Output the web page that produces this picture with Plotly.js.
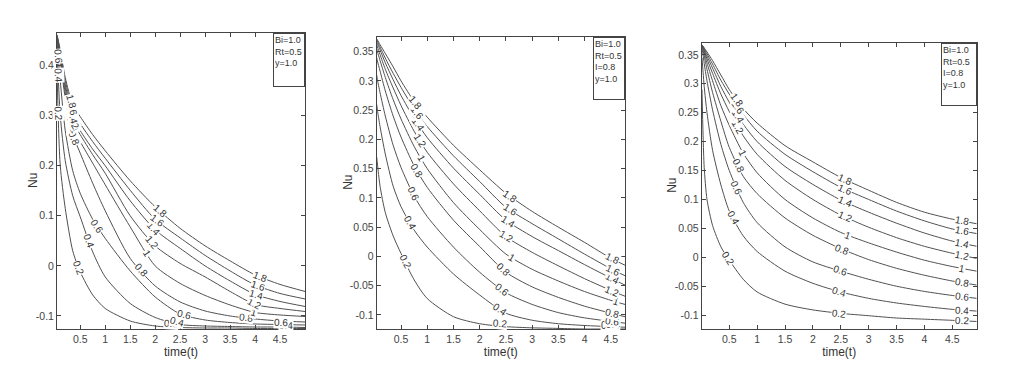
<!DOCTYPE html>
<html><head><meta charset="utf-8">
<script src="https://cdn.plot.ly/plotly-3.0.1.min.js"></script>
<style>html,body{margin:0;padding:0;background:#fff}#chart{width:1024px;height:383px}</style>
</head><body><div id="chart"></div>
<script>
// ---- data ----
const levels = ['0.2','0.4','0.6','0.8','1','1.2','1.4','1.6','1.8'];

const timeP1 = [0.03,0.05,0.1,0.2,0.35,0.5,0.75,1,1.5,2,2.5,3,3.5,4,4.5,5];
const nuP1 = [
  [0.44,0.33,0.2,0.115,0.03,-0.012,-0.058,-0.085,-0.11,-0.12,-0.123,-0.124,-0.124,-0.125,-0.125,-0.125],
  [0.45,0.4,0.3,0.21,0.14,0.098,0.028,-0.022,-0.075,-0.103,-0.117,-0.12,-0.121,-0.122,-0.122,-0.123],
  [0.455,0.43,0.37,0.27,0.19,0.145,0.093,0.055,-0.01,-0.062,-0.096,-0.108,-0.113,-0.116,-0.117,-0.118],
  [0.458,0.445,0.41,0.335,0.262,0.225,0.165,0.11,0.015,-0.04,-0.072,-0.09,-0.1,-0.106,-0.11,-0.112],
  [0.459,0.448,0.415,0.345,0.275,0.248,0.205,0.162,0.078,0.0,-0.035,-0.059,-0.078,-0.093,-0.098,-0.101],
  [0.46,0.45,0.42,0.355,0.288,0.262,0.222,0.185,0.1,0.04,0.005,-0.022,-0.051,-0.077,-0.085,-0.091],
  [0.46,0.451,0.423,0.362,0.298,0.27,0.233,0.2,0.13,0.072,0.035,0.0,-0.03,-0.057,-0.071,-0.081],
  [0.461,0.453,0.427,0.37,0.31,0.284,0.248,0.215,0.151,0.093,0.056,0.021,-0.01,-0.038,-0.055,-0.066],
  [0.462,0.455,0.431,0.376,0.322,0.298,0.262,0.23,0.17,0.118,0.075,0.04,0.01,-0.018,-0.037,-0.051]
];

const timeP2 = [0.036,0.05,0.1,0.2,0.35,0.5,0.75,1,1.5,2,2.5,3,3.5,4,4.5,4.77];
const nuP2 = [
  [0.17,0.158,0.12,0.075,0.035,0.005,-0.04,-0.072,-0.103,-0.115,-0.12,-0.122,-0.123,-0.124,-0.124,-0.124],
  [0.26,0.25,0.222,0.175,0.12,0.085,0.045,0.016,-0.03,-0.066,-0.097,-0.109,-0.115,-0.118,-0.12,-0.121],
  [0.31,0.302,0.28,0.24,0.19,0.152,0.103,0.068,0.016,-0.027,-0.062,-0.082,-0.096,-0.105,-0.111,-0.114],
  [0.34,0.334,0.317,0.283,0.24,0.204,0.155,0.118,0.062,0.017,-0.027,-0.052,-0.07,-0.085,-0.097,-0.103],
  [0.355,0.35,0.335,0.306,0.268,0.235,0.188,0.15,0.092,0.046,0.004,-0.022,-0.042,-0.06,-0.075,-0.082],
  [0.363,0.358,0.345,0.32,0.288,0.258,0.214,0.178,0.124,0.078,0.034,0.007,-0.016,-0.038,-0.058,-0.068],
  [0.368,0.364,0.353,0.331,0.302,0.275,0.236,0.203,0.151,0.106,0.062,0.034,0.01,-0.014,-0.037,-0.049],
  [0.371,0.368,0.358,0.339,0.313,0.289,0.252,0.222,0.172,0.128,0.084,0.056,0.03,0.004,-0.021,-0.033],
  [0.372,0.37,0.362,0.347,0.324,0.3,0.265,0.238,0.19,0.148,0.108,0.077,0.05,0.024,-0.003,-0.015]
];

const timeP3 = [0.01,0.03,0.05,0.1,0.2,0.35,0.5,0.75,1,1.5,2,2.5,3,3.5,4,4.5,4.94];
const nuP3 = [
  [0.29,0.21,0.155,0.1,0.055,0.018,-0.005,-0.038,-0.06,-0.081,-0.091,-0.097,-0.101,-0.105,-0.107,-0.109,-0.111],
  [0.345,0.32,0.295,0.25,0.185,0.125,0.08,0.037,0.01,-0.024,-0.045,-0.06,-0.071,-0.079,-0.085,-0.09,-0.093],
  [0.36,0.35,0.335,0.305,0.255,0.195,0.15,0.095,0.06,0.018,-0.008,-0.024,-0.038,-0.05,-0.059,-0.066,-0.071],
  [0.363,0.357,0.348,0.325,0.285,0.235,0.19,0.14,0.11,0.068,0.038,0.015,-0.004,-0.019,-0.031,-0.041,-0.048],
  [0.365,0.36,0.354,0.336,0.305,0.262,0.228,0.18,0.146,0.1,0.068,0.043,0.025,0.009,-0.005,-0.016,-0.024],
  [0.366,0.362,0.357,0.343,0.318,0.282,0.252,0.21,0.178,0.133,0.1,0.073,0.052,0.034,0.019,0.007,-0.002],
  [0.366,0.363,0.359,0.348,0.327,0.295,0.268,0.23,0.2,0.157,0.126,0.099,0.078,0.059,0.042,0.028,0.019],
  [0.367,0.364,0.361,0.352,0.334,0.306,0.282,0.247,0.218,0.178,0.148,0.121,0.1,0.08,0.063,0.049,0.041],
  [0.367,0.365,0.362,0.355,0.34,0.315,0.29,0.257,0.232,0.193,0.165,0.138,0.116,0.095,0.078,0.066,0.058]
];

const xTickVals = [0.5,1,1.5,2,2.5,3,3.5,4,4.5];
const xTickText = ['0.5','1','1.5','2','2.5','3','3.5','4','4.5'];
const yTickValsP1 = [-0.1,0,0.1,0.2,0.3,0.4];
const yTickTextP1 = ['-0.1','0','0.1','0.2','0.3','0.4'];
const yTickValsP23 = [-0.1,-0.05,0,0.05,0.1,0.15,0.2,0.25,0.3,0.35];
const yTickTextP23 = ['-0.1','-0.05','0','0.05','0.1','0.15','0.2','0.25','0.3','0.35'];

const paramsP1 = 'Bi=1.0<br>Rt=0.5<br>y=1.0';
const paramsP23 = 'Bi=1.0<br>Rt=0.5<br>I=0.8<br>y=1.0';

// ---- label placement: [level index, time position, optional pixel lift] ----
const labelsP1 = [
  [0,0.06],[1,0.06],[2,0.06],
  [3,0.38],[4,0.37],[5,0.36],[6,0.35],[7,0.34],[8,0.33],
  [0,0.467],[1,0.67],[2,0.84],[3,1.71],[4,1.84],[5,1.94],[6,1.97],[7,2.04],[8,2.09],
  [0,2.31,3],[1,2.44,2],[2,2.58],[3,3.82],[4,3.98],[5,3.98],[6,4.02],[7,4.05],[8,4.09],
  [1,4.62,2],[2,4.52,2]
];
const labelsP2 = [
  [0,0.58],[1,0.67],[2,0.73],[3,0.8],[4,0.89],[5,0.86],[6,0.83],[7,0.8],[8,0.77],
  [0,2.39,3],[1,2.39],[2,2.42],[3,2.45],[4,2.61],[5,2.51],[6,2.54],[7,2.58],[8,2.58],
  [0,4.45,4],[1,4.55,2],[2,4.53],[3,4.53],[4,4.6],[5,4.53],[6,4.53],[7,4.55],[8,4.53]
];
const labelsP3 = [
  [0,0.48],[1,0.57],[2,0.63],[3,0.66],[4,0.75],[5,0.66],[6,0.66],[7,0.66],[8,0.63],
  [0,2.46],[1,2.46],[2,2.49],[3,2.52],[4,2.63],[5,2.575],[6,2.575],[7,2.575],[8,2.575],
  [0,4.67],[1,4.67],[2,4.67],[3,4.67],[4,4.67],[5,4.67],[6,4.67],[7,4.67],[8,4.67]
];

// ---- layout geometry ----
const W = 1024, H = 383;
const panels = [
  {xd:[57/W,305/W], yd:[1-329/H,1-33/H], xr:[0.035,5.0], yr:[-0.126,0.465], t:timeP1, nu:nuP1, lab:labelsP1,
   yv:yTickValsP1, yt:yTickTextP1, params:paramsP1, boxW:32, boxH:54, nuX:33},
  {xd:[376.7/W,625/W], yd:[1-329/H,1-36.7/H], xr:[0.036,4.77], yr:[-0.124,0.3756], t:timeP2, nu:nuP2, lab:labelsP2,
   yv:yTickValsP23, yt:yTickTextP23, params:paramsP23, boxW:32, boxH:63, nuX:348},
  {xd:[701.7/W,976.7/W], yd:[1-329/H,1-42.7/H], xr:[0.005,4.94], yr:[-0.124,0.371], t:timeP3, nu:nuP3, lab:labelsP3,
   yv:yTickValsP23, yt:yTickTextP23, params:paramsP23, boxW:36, boxH:63, nuX:672}
];

const lineColor = '#505050';
const sans = '"Liberation Sans", Arial, sans-serif';
const tickFont = {family:sans, size:10.5, color:'#444'};
const traces = [], annotations = [];
const layout = {
  width:W, height:H, margin:{l:0,r:0,t:0,b:0}, paper_bgcolor:'#fff', plot_bgcolor:'#fff',
  showlegend:false, annotations:annotations
};

function interp(X, Y, x){
  let i = 0;
  while (i < X.length-2 && x > X[i+1]) i++;
  const t = (x - X[i])/(X[i+1]-X[i]);
  return {y: Y[i] + t*(Y[i+1]-Y[i]), s: (Y[i+1]-Y[i])/(X[i+1]-X[i])};
}

panels.forEach((p, k) => {
  const n = k === 0 ? '' : String(k+1);
  const xa = 'x'+n, ya = 'y'+n;
  p.nu.forEach((row, li) => {
    traces.push({type:'scatter', mode:'lines', x:p.t, y:row, xaxis:xa, yaxis:ya,
      line:{color:lineColor, width:1, shape:'spline', smoothing:0.7}, hoverinfo:'skip', name:levels[li]});
  });
  const axCommon = {showline:true, linecolor:'#444', linewidth:1, mirror:'ticks', ticks:'inside', ticklen:4,
    tickcolor:'#444', showgrid:false, zeroline:false, tickfont:tickFont, tickmode:'array'};
  layout['xaxis'+n] = Object.assign({}, axCommon, {domain:p.xd, range:p.xr, anchor:ya,
    tickvals:xTickVals, ticktext:xTickText,
    title:{text:'time(t)', font:{family:sans, size:12, color:'#333'}, standoff:3}});
  layout['yaxis'+n] = Object.assign({}, axCommon, {domain:p.yd, range:p.yr, anchor:xa,
    tickvals:p.yv, ticktext:p.yt});

  // y axis title "Nu"
  annotations.push({xref:'paper', yref:ya+' domain', x:p.nuX/W, y:0.5, xanchor:'center', yanchor:'middle',
    text:'Nu', showarrow:false, textangle:-90, font:{family:sans, size:12, color:'#333'}});

  // pixel scales for label rotation
  const kx = (p.xd[1]-p.xd[0])*W/(p.xr[1]-p.xr[0]);
  const ky = (p.yd[1]-p.yd[0])*H/(p.yr[1]-p.yr[0]);
  p.lab.forEach(([li, tx, lift]) => {
    const r = interp(p.t, p.nu[li], tx);
    const ang = Math.atan(-r.s*ky/kx)*180/Math.PI;
    annotations.push({xref:xa, yref:ya, x:tx, y:r.y, yshift:lift||0, text:levels[li], showarrow:false,
      textangle:ang, bgcolor:'#fff', borderpad:0,
      font:{family:sans, size:10, color:'#333'}});
  });

  // parameter box
  annotations.push({xref:xa+' domain', yref:ya+' domain', x:1, y:1, xanchor:'right', yanchor:'top',
    text:p.params, showarrow:false, align:'left', valign:'top', width:p.boxW-4, height:p.boxH-4,
    bordercolor:'#444', borderwidth:1, borderpad:1, bgcolor:'#fff',
    font:{family:sans, size:9, color:'#333'}});
});

Plotly.newPlot('chart', traces, layout, {staticPlot:true, displayModeBar:false});
</script>
</body></html>
